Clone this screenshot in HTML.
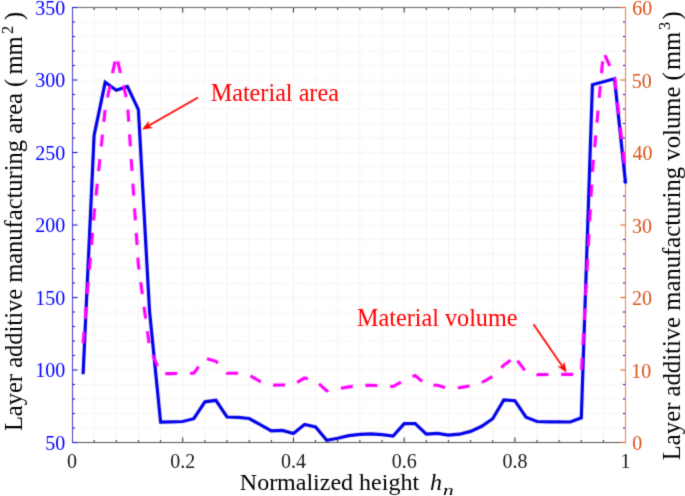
<!DOCTYPE html>
<html><head><meta charset="utf-8"><style>
html,body{margin:0;padding:0;background:#fff;width:685px;height:496px;overflow:hidden}
svg{display:block}
text{font-kerning:none}
</style></head><body>
<svg width="685" height="496" viewBox="0 0 685 496">
<defs><filter id="bl" filterUnits="userSpaceOnUse" x="0" y="0" width="685" height="496" color-interpolation-filters="sRGB"><feConvolveMatrix order="3" kernelMatrix="1 4 1 4 16 4 1 4 1" divisor="36" edgeMode="duplicate"/></filter><filter id="bt" filterUnits="userSpaceOnUse" x="0" y="0" width="685" height="496" color-interpolation-filters="sRGB"><feConvolveMatrix order="3" kernelMatrix="1 6 1 6 36 6 1 6 1" divisor="64" edgeMode="none"/></filter></defs>
<g filter="url(#bl)">
<rect width="685" height="496" fill="#fff"/>
<g stroke="#e2e2e2" stroke-width="1" stroke-dasharray="1 1.5"><line x1="94.14" y1="8.0" x2="94.14" y2="442.0" /><line x1="116.29" y1="8.0" x2="116.29" y2="442.0" /><line x1="138.43" y1="8.0" x2="138.43" y2="442.0" /><line x1="160.58" y1="8.0" x2="160.58" y2="442.0" /><line x1="182.72" y1="8.0" x2="182.72" y2="442.0" /><line x1="204.86" y1="8.0" x2="204.86" y2="442.0" /><line x1="227.01" y1="8.0" x2="227.01" y2="442.0" /><line x1="249.15" y1="8.0" x2="249.15" y2="442.0" /><line x1="271.30" y1="8.0" x2="271.30" y2="442.0" /><line x1="293.44" y1="8.0" x2="293.44" y2="442.0" /><line x1="315.58" y1="8.0" x2="315.58" y2="442.0" /><line x1="337.73" y1="8.0" x2="337.73" y2="442.0" /><line x1="359.87" y1="8.0" x2="359.87" y2="442.0" /><line x1="382.02" y1="8.0" x2="382.02" y2="442.0" /><line x1="404.16" y1="8.0" x2="404.16" y2="442.0" /><line x1="426.30" y1="8.0" x2="426.30" y2="442.0" /><line x1="448.45" y1="8.0" x2="448.45" y2="442.0" /><line x1="470.59" y1="8.0" x2="470.59" y2="442.0" /><line x1="492.74" y1="8.0" x2="492.74" y2="442.0" /><line x1="514.88" y1="8.0" x2="514.88" y2="442.0" /><line x1="537.02" y1="8.0" x2="537.02" y2="442.0" /><line x1="559.17" y1="8.0" x2="559.17" y2="442.0" /><line x1="581.31" y1="8.0" x2="581.31" y2="442.0" /><line x1="603.46" y1="8.0" x2="603.46" y2="442.0" /></g>
<g stroke="#f6e4da" stroke-width="1" stroke-dasharray="1 1.5"><line x1="73.0" y1="428.00" x2="625.0" y2="428.00" /><line x1="73.0" y1="413.50" x2="625.0" y2="413.50" /><line x1="73.0" y1="399.00" x2="625.0" y2="399.00" /><line x1="73.0" y1="384.50" x2="625.0" y2="384.50" /><line x1="73.0" y1="370.00" x2="625.0" y2="370.00" /><line x1="73.0" y1="355.50" x2="625.0" y2="355.50" /><line x1="73.0" y1="341.00" x2="625.0" y2="341.00" /><line x1="73.0" y1="326.50" x2="625.0" y2="326.50" /><line x1="73.0" y1="312.00" x2="625.0" y2="312.00" /><line x1="73.0" y1="297.50" x2="625.0" y2="297.50" /><line x1="73.0" y1="283.00" x2="625.0" y2="283.00" /><line x1="73.0" y1="268.50" x2="625.0" y2="268.50" /><line x1="73.0" y1="254.00" x2="625.0" y2="254.00" /><line x1="73.0" y1="239.50" x2="625.0" y2="239.50" /><line x1="73.0" y1="225.00" x2="625.0" y2="225.00" /><line x1="73.0" y1="210.50" x2="625.0" y2="210.50" /><line x1="73.0" y1="196.00" x2="625.0" y2="196.00" /><line x1="73.0" y1="181.50" x2="625.0" y2="181.50" /><line x1="73.0" y1="167.00" x2="625.0" y2="167.00" /><line x1="73.0" y1="152.50" x2="625.0" y2="152.50" /><line x1="73.0" y1="138.00" x2="625.0" y2="138.00" /><line x1="73.0" y1="123.50" x2="625.0" y2="123.50" /><line x1="73.0" y1="109.00" x2="625.0" y2="109.00" /><line x1="73.0" y1="94.50" x2="625.0" y2="94.50" /><line x1="73.0" y1="80.00" x2="625.0" y2="80.00" /><line x1="73.0" y1="65.50" x2="625.0" y2="65.50" /><line x1="73.0" y1="51.00" x2="625.0" y2="51.00" /><line x1="73.0" y1="36.50" x2="625.0" y2="36.50" /><line x1="73.0" y1="22.00" x2="625.0" y2="22.00" /></g>
<g stroke="#262626" stroke-width="1"><line x1="94.14" y1="442.5" x2="94.14" y2="440.0" /><line x1="94.14" y1="7.5" x2="94.14" y2="10.0" /><line x1="116.29" y1="442.5" x2="116.29" y2="440.0" /><line x1="116.29" y1="7.5" x2="116.29" y2="10.0" /><line x1="138.43" y1="442.5" x2="138.43" y2="440.0" /><line x1="138.43" y1="7.5" x2="138.43" y2="10.0" /><line x1="160.58" y1="442.5" x2="160.58" y2="440.0" /><line x1="160.58" y1="7.5" x2="160.58" y2="10.0" /><line x1="182.72" y1="442.5" x2="182.72" y2="437.5" /><line x1="182.72" y1="7.5" x2="182.72" y2="12.5" /><line x1="204.86" y1="442.5" x2="204.86" y2="440.0" /><line x1="204.86" y1="7.5" x2="204.86" y2="10.0" /><line x1="227.01" y1="442.5" x2="227.01" y2="440.0" /><line x1="227.01" y1="7.5" x2="227.01" y2="10.0" /><line x1="249.15" y1="442.5" x2="249.15" y2="440.0" /><line x1="249.15" y1="7.5" x2="249.15" y2="10.0" /><line x1="271.30" y1="442.5" x2="271.30" y2="440.0" /><line x1="271.30" y1="7.5" x2="271.30" y2="10.0" /><line x1="293.44" y1="442.5" x2="293.44" y2="437.5" /><line x1="293.44" y1="7.5" x2="293.44" y2="12.5" /><line x1="315.58" y1="442.5" x2="315.58" y2="440.0" /><line x1="315.58" y1="7.5" x2="315.58" y2="10.0" /><line x1="337.73" y1="442.5" x2="337.73" y2="440.0" /><line x1="337.73" y1="7.5" x2="337.73" y2="10.0" /><line x1="359.87" y1="442.5" x2="359.87" y2="440.0" /><line x1="359.87" y1="7.5" x2="359.87" y2="10.0" /><line x1="382.02" y1="442.5" x2="382.02" y2="440.0" /><line x1="382.02" y1="7.5" x2="382.02" y2="10.0" /><line x1="404.16" y1="442.5" x2="404.16" y2="437.5" /><line x1="404.16" y1="7.5" x2="404.16" y2="12.5" /><line x1="426.30" y1="442.5" x2="426.30" y2="440.0" /><line x1="426.30" y1="7.5" x2="426.30" y2="10.0" /><line x1="448.45" y1="442.5" x2="448.45" y2="440.0" /><line x1="448.45" y1="7.5" x2="448.45" y2="10.0" /><line x1="470.59" y1="442.5" x2="470.59" y2="440.0" /><line x1="470.59" y1="7.5" x2="470.59" y2="10.0" /><line x1="492.74" y1="442.5" x2="492.74" y2="440.0" /><line x1="492.74" y1="7.5" x2="492.74" y2="10.0" /><line x1="514.88" y1="442.5" x2="514.88" y2="437.5" /><line x1="514.88" y1="7.5" x2="514.88" y2="12.5" /><line x1="537.02" y1="442.5" x2="537.02" y2="440.0" /><line x1="537.02" y1="7.5" x2="537.02" y2="10.0" /><line x1="559.17" y1="442.5" x2="559.17" y2="440.0" /><line x1="559.17" y1="7.5" x2="559.17" y2="10.0" /><line x1="581.31" y1="442.5" x2="581.31" y2="440.0" /><line x1="581.31" y1="7.5" x2="581.31" y2="10.0" /><line x1="603.46" y1="442.5" x2="603.46" y2="440.0" /><line x1="603.46" y1="7.5" x2="603.46" y2="10.0" /></g>
<g stroke="#0000c8" stroke-width="1"><line x1="72.5" y1="428.00" x2="75.0" y2="428.00" /><line x1="625.5" y1="428.00" x2="623.0" y2="428.00" /><line x1="72.5" y1="413.50" x2="75.0" y2="413.50" /><line x1="625.5" y1="413.50" x2="623.0" y2="413.50" /><line x1="72.5" y1="399.00" x2="75.0" y2="399.00" /><line x1="625.5" y1="399.00" x2="623.0" y2="399.00" /><line x1="72.5" y1="384.50" x2="75.0" y2="384.50" /><line x1="625.5" y1="384.50" x2="623.0" y2="384.50" /><line x1="72.5" y1="370.00" x2="77.5" y2="370.00" /><line x1="72.5" y1="355.50" x2="75.0" y2="355.50" /><line x1="625.5" y1="355.50" x2="623.0" y2="355.50" /><line x1="72.5" y1="341.00" x2="75.0" y2="341.00" /><line x1="625.5" y1="341.00" x2="623.0" y2="341.00" /><line x1="72.5" y1="326.50" x2="75.0" y2="326.50" /><line x1="625.5" y1="326.50" x2="623.0" y2="326.50" /><line x1="72.5" y1="312.00" x2="75.0" y2="312.00" /><line x1="625.5" y1="312.00" x2="623.0" y2="312.00" /><line x1="72.5" y1="297.50" x2="77.5" y2="297.50" /><line x1="72.5" y1="283.00" x2="75.0" y2="283.00" /><line x1="625.5" y1="283.00" x2="623.0" y2="283.00" /><line x1="72.5" y1="268.50" x2="75.0" y2="268.50" /><line x1="625.5" y1="268.50" x2="623.0" y2="268.50" /><line x1="72.5" y1="254.00" x2="75.0" y2="254.00" /><line x1="625.5" y1="254.00" x2="623.0" y2="254.00" /><line x1="72.5" y1="239.50" x2="75.0" y2="239.50" /><line x1="625.5" y1="239.50" x2="623.0" y2="239.50" /><line x1="72.5" y1="225.00" x2="77.5" y2="225.00" /><line x1="72.5" y1="210.50" x2="75.0" y2="210.50" /><line x1="625.5" y1="210.50" x2="623.0" y2="210.50" /><line x1="72.5" y1="196.00" x2="75.0" y2="196.00" /><line x1="625.5" y1="196.00" x2="623.0" y2="196.00" /><line x1="72.5" y1="181.50" x2="75.0" y2="181.50" /><line x1="625.5" y1="181.50" x2="623.0" y2="181.50" /><line x1="72.5" y1="167.00" x2="75.0" y2="167.00" /><line x1="625.5" y1="167.00" x2="623.0" y2="167.00" /><line x1="72.5" y1="152.50" x2="77.5" y2="152.50" /><line x1="72.5" y1="138.00" x2="75.0" y2="138.00" /><line x1="625.5" y1="138.00" x2="623.0" y2="138.00" /><line x1="72.5" y1="123.50" x2="75.0" y2="123.50" /><line x1="625.5" y1="123.50" x2="623.0" y2="123.50" /><line x1="72.5" y1="109.00" x2="75.0" y2="109.00" /><line x1="625.5" y1="109.00" x2="623.0" y2="109.00" /><line x1="72.5" y1="94.50" x2="75.0" y2="94.50" /><line x1="625.5" y1="94.50" x2="623.0" y2="94.50" /><line x1="72.5" y1="80.00" x2="77.5" y2="80.00" /><line x1="72.5" y1="65.50" x2="75.0" y2="65.50" /><line x1="625.5" y1="65.50" x2="623.0" y2="65.50" /><line x1="72.5" y1="51.00" x2="75.0" y2="51.00" /><line x1="625.5" y1="51.00" x2="623.0" y2="51.00" /><line x1="72.5" y1="36.50" x2="75.0" y2="36.50" /><line x1="625.5" y1="36.50" x2="623.0" y2="36.50" /><line x1="72.5" y1="22.00" x2="75.0" y2="22.00" /><line x1="625.5" y1="22.00" x2="623.0" y2="22.00" /></g>
<g stroke="#d95319" stroke-width="1"><line x1="625.5" y1="370.00" x2="620.5" y2="370.00" /><line x1="625.5" y1="297.50" x2="620.5" y2="297.50" /><line x1="625.5" y1="225.00" x2="620.5" y2="225.00" /><line x1="625.5" y1="152.50" x2="620.5" y2="152.50" /><line x1="625.5" y1="80.00" x2="620.5" y2="80.00" /></g>
<line x1="72.0" y1="442.5" x2="626.0" y2="442.5" stroke="#535353" stroke-width="1"/>
<line x1="72.0" y1="7.5" x2="626.0" y2="7.5" stroke="#616161" stroke-width="1"/>
<line x1="72.5" y1="7.0" x2="72.5" y2="443.0" stroke="#3c3cc3" stroke-width="1"/>
<line x1="625.5" y1="7.0" x2="625.5" y2="443.0" stroke="#dc7f52" stroke-width="1"/>
<g stroke="#0000c8" stroke-width="1"><line x1="72.5" y1="7.50" x2="77.5" y2="7.50"/><line x1="72.5" y1="442.50" x2="77.5" y2="442.50"/></g>
<g stroke="#d95319" stroke-width="1"><line x1="625.5" y1="7.50" x2="620.5" y2="7.50"/><line x1="625.5" y1="442.50" x2="620.5" y2="442.50"/></g>
<polyline fill="none" stroke="#0000ea" stroke-width="3.2" stroke-linejoin="miter" points="83.1,374.2 94.1,135.5 105.2,82.3 116.3,90.2 127.4,86.4 138.4,109.6 149.5,311.0 160.6,422.1 171.6,421.8 182.7,421.5 193.8,418.7 204.9,401.8 215.9,400.3 227.0,417.0 238.1,417.4 249.2,418.5 260.2,424.6 271.3,430.8 282.4,430.4 293.4,433.5 304.5,424.4 315.6,427.0 326.7,440.3 337.7,438.2 348.8,435.7 359.9,434.3 370.9,433.8 382.0,434.6 393.1,436.1 404.2,423.7 415.2,423.7 426.3,434.2 437.4,433.3 448.4,435.2 459.5,434.2 470.6,431.4 481.7,426.3 492.7,418.7 503.8,399.9 514.9,400.7 526.0,417.2 537.0,421.5 548.1,421.9 559.2,421.9 570.2,422.0 581.3,417.8 592.4,84.8 603.5,81.8 614.5,78.7 625.6,183.5"/>
<path fill="none" stroke="#ff00ff" stroke-width="3.1" stroke-linejoin="miter" d="M83.09,343.48 L84.11,331.53M85.19,318.84 L86.21,306.89M87.29,294.20 L88.31,282.24M89.39,269.56 L90.40,257.60M91.49,244.92 L92.50,232.96M93.58,220.28 L94.14,213.70 L94.71,208.33M96.04,195.67 L97.30,183.73M98.63,171.07 L99.89,159.14M101.22,146.48 L102.47,134.55M103.81,121.88 L105.06,109.95M107.51,97.46 L109.95,85.71M112.54,73.25 L114.98,61.50M117.74,61.33 L120.50,73.00M123.43,85.39 L126.19,97.07M127.88,109.65 L128.69,121.62M129.55,134.32 L130.36,146.29M131.22,159.00 L132.03,170.97M132.89,183.67 L133.70,195.64M134.56,208.34 L135.37,220.32M136.23,233.02 L137.04,244.99M137.90,257.69 L138.43,265.50 L138.99,269.64M140.71,282.25 L142.32,294.14M144.04,306.76 L145.65,318.65M147.37,331.26 L148.98,343.15M152.89,355.17 L157.49,366.26M165.25,373.66 L171.65,373.60 L177.25,373.50M189.98,373.27 L193.79,373.20 L198.63,366.60M206.97,358.71 L215.94,361.30 L217.75,363.25M226.42,372.57 L227.01,373.20 L238.08,373.20 L238.15,373.21M250.51,375.81 L260.22,381.60 L260.88,381.81M273.08,385.17 L282.37,385.00 L285.07,384.90M297.19,382.37 L304.51,378.00 L307.89,378.79M319.13,383.87 L326.66,390.80 L328.40,390.50M340.95,388.32 L348.80,386.90 L352.78,386.36M365.45,385.35 L370.94,385.30 L377.45,385.48M390.15,386.26 L393.09,386.50 L400.98,382.08M412.50,376.68 L415.23,375.50 L422.08,381.38M433.47,385.19 L437.38,385.30 L445.17,387.48M457.75,387.73 L459.52,387.60 L469.61,385.96M481.85,382.50 L492.36,376.71M501.30,367.68 L503.81,365.10 L510.68,360.26M517.53,360.80 L524.78,370.36M536.48,374.47 L537.02,374.60 L548.10,374.50 L548.46,374.50M561.22,374.40 L570.24,374.40 L573.22,374.40M581.57,369.73 L582.22,357.75M582.92,345.00 L583.58,333.02M584.27,320.27 L584.93,308.29M585.63,295.54 L586.28,283.56M586.98,270.81 L587.63,258.83M588.33,246.09 L588.99,234.10M589.68,221.36 L590.34,209.38M591.04,196.63 L591.69,184.65M592.39,171.90 L593.50,159.95M594.67,147.24 L595.77,135.29M596.94,122.58 L598.05,110.63M599.22,97.92 L600.32,85.97M601.49,73.26 L602.60,61.31M604.89,55.10 L609.91,66.00M614.72,77.74 L616.07,89.67M617.51,102.35 L618.85,114.27M620.29,126.96 L621.63,138.88M623.07,151.57 L624.41,163.49"/>
<line x1="198.0" y1="97.6" x2="148.5" y2="125.8" stroke="#ff0000" stroke-width="1.7"/><polygon fill="#ff0000" points="142.0,129.5 149.0,120.7 148.5,125.8 153.2,128.0"/>
<line x1="533.5" y1="324.2" x2="562.5" y2="366.4" stroke="#ff0000" stroke-width="1.7"/><polygon fill="#ff0000" points="566.7,372.6 557.3,366.3 562.5,366.4 564.2,361.6"/>
</g>
<g filter="url(#bt)">
<text font-family="'Liberation Serif', serif" font-size="20.00" fill="#0000ff" stroke="#0000ff" stroke-width="0" x="45.36" y="449.70">50</text>
<text font-family="'Liberation Serif', serif" font-size="20.00" fill="#0000ff" stroke="#0000ff" stroke-width="0" x="35.36" y="377.20">100</text>
<text font-family="'Liberation Serif', serif" font-size="20.00" fill="#0000ff" stroke="#0000ff" stroke-width="0" x="35.36" y="304.70">150</text>
<text font-family="'Liberation Serif', serif" font-size="20.00" fill="#0000ff" stroke="#0000ff" stroke-width="0" x="35.36" y="232.20">200</text>
<text font-family="'Liberation Serif', serif" font-size="20.00" fill="#0000ff" stroke="#0000ff" stroke-width="0" x="35.36" y="159.70">250</text>
<text font-family="'Liberation Serif', serif" font-size="20.00" fill="#0000ff" stroke="#0000ff" stroke-width="0" x="35.36" y="87.20">300</text>
<text font-family="'Liberation Serif', serif" font-size="20.00" fill="#0000ff" stroke="#0000ff" stroke-width="0" x="35.36" y="14.70">350</text>
<text font-family="'Liberation Serif', serif" font-size="20.00" fill="#d95319" stroke="#d95319" stroke-width="0" x="632.24" y="450.00">0</text>
<text font-family="'Liberation Serif', serif" font-size="20.00" fill="#d95319" stroke="#d95319" stroke-width="0" x="631.24" y="377.50">10</text>
<text font-family="'Liberation Serif', serif" font-size="20.00" fill="#d95319" stroke="#d95319" stroke-width="0" x="632.12" y="305.00">20</text>
<text font-family="'Liberation Serif', serif" font-size="20.00" fill="#d95319" stroke="#d95319" stroke-width="0" x="632.04" y="232.50">30</text>
<text font-family="'Liberation Serif', serif" font-size="20.00" fill="#d95319" stroke="#d95319" stroke-width="0" x="632.61" y="160.00">40</text>
<text font-family="'Liberation Serif', serif" font-size="20.00" fill="#d95319" stroke="#d95319" stroke-width="0" x="631.84" y="87.50">50</text>
<text font-family="'Liberation Serif', serif" font-size="20.00" fill="#d95319" stroke="#d95319" stroke-width="0" x="632.14" y="15.00">60</text>
<text font-family="'Liberation Serif', serif" font-size="20.00" fill="#1a1a1a" stroke="#1a1a1a" stroke-width="0" x="67.00" y="467.90">0</text>
<text font-family="'Liberation Serif', serif" font-size="20.00" fill="#1a1a1a" stroke="#1a1a1a" stroke-width="0" x="170.22" y="467.90">0.2</text>
<text font-family="'Liberation Serif', serif" font-size="20.00" fill="#1a1a1a" stroke="#1a1a1a" stroke-width="0" x="280.94" y="467.90">0.4</text>
<text font-family="'Liberation Serif', serif" font-size="20.00" fill="#1a1a1a" stroke="#1a1a1a" stroke-width="0" x="391.66" y="467.90">0.6</text>
<text font-family="'Liberation Serif', serif" font-size="20.00" fill="#1a1a1a" stroke="#1a1a1a" stroke-width="0" x="502.38" y="467.90">0.8</text>
<text font-family="'Liberation Serif', serif" font-size="20.00" fill="#1a1a1a" stroke="#1a1a1a" stroke-width="0" x="620.60" y="467.90">1</text>
<text font-family="'Liberation Serif', serif" font-size="24.00" fill="#000" stroke="#000" stroke-width="0" x="239.81" y="489.70">Normalized height</text>
<text font-family="'Liberation Serif', serif" font-size="24.00" fill="#000" stroke="#000" stroke-width="0" x="429.93" y="489.70" font-style="italic">h</text>
<text font-family="'Liberation Serif', serif" font-size="15.5" font-style="italic" transform="translate(443.04,494.6) scale(1.38,1)">n</text>
<text font-family="'Liberation Serif', serif" font-size="24.50" fill="#000" stroke="#000" stroke-width="0" transform="translate(21.50,431.11) rotate(-90)">Layer additive manufacturing area (</text>
<text font-family="'Liberation Serif', serif" font-size="24.50" fill="#000" stroke="#000" stroke-width="0" transform="translate(21.50,74.51) rotate(-90)">mm</text>
<text font-family="'Liberation Serif', serif" font-size="16.50" fill="#000" stroke="#000" stroke-width="0" transform="translate(12.60,33.93) rotate(-90)">2</text>
<text font-family="'Liberation Serif', serif" font-size="24.50" fill="#000" stroke="#000" stroke-width="0" transform="translate(21.50,19.89) rotate(-90)">)</text>
<text font-family="'Liberation Serif', serif" font-size="24.70" fill="#000" stroke="#000" stroke-width="0" transform="translate(679.70,460.21) rotate(-90)">Layer additive manufacturing volume (</text>
<text font-family="'Liberation Serif', serif" font-size="24.50" fill="#000" stroke="#000" stroke-width="0" transform="translate(679.70,70.01) rotate(-90)">mm</text>
<text font-family="'Liberation Serif', serif" font-size="16.50" fill="#000" stroke="#000" stroke-width="0" transform="translate(670.10,29.99) rotate(-90)">3</text>
<text font-family="'Liberation Serif', serif" font-size="24.50" fill="#000" stroke="#000" stroke-width="0" transform="translate(679.70,19.39) rotate(-90)">)</text>
<text font-family="'Liberation Serif', serif" font-size="24.20" fill="#ff0000" stroke="#ff0000" stroke-width="0" x="210.67" y="100.80">Material area</text>
<text font-family="'Liberation Serif', serif" font-size="24.20" fill="#ff0000" stroke="#ff0000" stroke-width="0" x="356.97" y="325.70">Material volume</text>
</g>
</svg>
</body></html>
